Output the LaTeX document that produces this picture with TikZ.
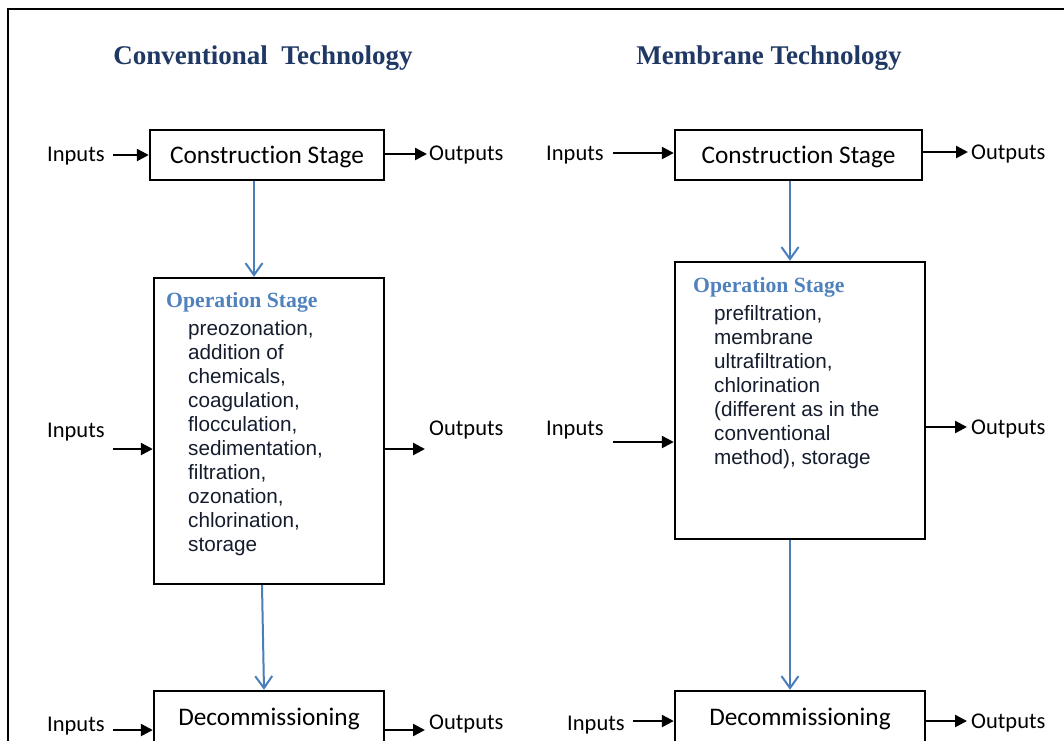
\documentclass[tikz,border=0pt]{standalone}
\usepackage{fontspec}
\setmainfont{Carlito}[Ligatures=NoCommon]
\newfontfamily\listfont{Liberation Sans}
\newfontfamily\headfont{Liberation Serif}
\usetikzlibrary{arrows.meta}
\definecolor{titleblue}{RGB}{31,56,100}
\definecolor{headblue}{RGB}{79,129,189}
\definecolor{linkblue}{RGB}{74,126,187}
\definecolor{listink}{RGB}{20,28,45}
\tikzset{
	stagebox/.style={draw=black, line width=2.4pt, inner sep=0pt, text depth=0pt, font=\fontsize{25.3}{30}\selectfont},
	iotext/.style={black, anchor=base west, inner sep=0pt, font=\fontsize{22.5}{27}\selectfont},
	listtext/.style={listink, anchor=base west, inner sep=0pt, font=\listfont\fontsize{20.7}{24}\selectfont},
	headtext/.style={headblue, anchor=base west, inner sep=0pt, font=\headfont\bfseries\fontsize{21.7}{26}\selectfont},
	titletext/.style={titleblue, anchor=base, inner sep=0pt, font=\headfont\bfseries\fontsize{27}{32}\selectfont},
	ioarrow/.style={draw=black, line width=2.4pt, -{Triangle[length=12pt,width=12pt]}},
	flowarrow/.style={draw=linkblue, line width=2pt, -{Straight Barb[length=12pt,width=17pt]}},
}
\begin{document}
\begin{tikzpicture}[x=1pt,y=-1pt]
	\useasboundingbox (0,0) rectangle (1064,740);
	\clip (0,0) rectangle (1064,740);
	\draw[draw=black, line width=2.4pt] (8,9) rectangle (1090,770);
	% titles
	\node[titletext] (titleL) at (263,64) {Conventional\ \ Technology};
	\node[titletext] (titleR) at (769,64) {Membrane Technology};
	% conventional column
	\node[stagebox, minimum width=234, minimum height=50] (conL) at (267,155) {Construction Stage};
	\node[stagebox, minimum width=230, minimum height=306] (opL) at (269,431) {};
	\node[stagebox, minimum width=230, minimum height=52] (decL) at (269,717) {Decommissioning};
	\node[headtext] (headL) at (166,307) {Operation Stage};
	\node[listtext] (lstL1) at (188,335) {preozonation,};
	\node[listtext] (lstL2) at (188,359) {addition of};
	\node[listtext] (lstL3) at (188,383) {chemicals,};
	\node[listtext] (lstL4) at (188,407) {coagulation,};
	\node[listtext] (lstL5) at (188,431) {flocculation,};
	\node[listtext] (lstL6) at (188,455) {sedimentation,};
	\node[listtext] (lstL7) at (188,479) {filtration,};
	\node[listtext] (lstL8) at (188,503) {ozonation,};
	\node[listtext] (lstL9) at (188,527) {chlorination,};
	\node[listtext] (lstL10) at (188,551) {storage};
	\node[iotext] (inLtxt1) at (47,161) {Inputs};
	\node[iotext] (inLtxt2) at (47,437) {Inputs};
	\node[iotext] (inLtxt3) at (47,731) {Inputs};
	\node[iotext] (outLtxt1) at (429,160) {Outputs};
	\node[iotext] (outLtxt2) at (429,435) {Outputs};
	\node[iotext] (outLtxt3) at (429,729) {Outputs};
	\coordinate (inL1) at (113,155);
	\coordinate (inL2) at (113,449);
	\coordinate (inL3) at (113,730);
	\coordinate (outL1) at (427,154);
	\coordinate (outL2) at (425,449);
	\coordinate (outL3) at (425,730);
	\draw[ioarrow] (inL1) -- (inL1 -| conL.west);
	\draw[ioarrow] (inL2) -- (inL2 -| opL.west);
	\draw[ioarrow] (inL3) -- (inL3 -| decL.west);
	\draw[ioarrow] (outL1 -| conL.east) -- (outL1);
	\draw[ioarrow] (outL2 -| opL.east) -- (outL2);
	\draw[ioarrow] (outL3 -| decL.east) -- (outL3);
	\draw[flowarrow] ([xshift=-13pt]conL.south) -- ([xshift=-13pt]conL.south |- opL.north);
	\draw[flowarrow] ([xshift=-7pt]opL.south) -- ([xshift=-5pt]decL.north);
	% membrane column
	\node[stagebox, minimum width=247, minimum height=50] (conR) at (798.5,155) {Construction Stage};
	\node[stagebox, minimum width=250, minimum height=277] (opR) at (800,400.5) {};
	\node[stagebox, minimum width=250, minimum height=52] (decR) at (800,717) {Decommissioning};
	\node[headtext] (headR) at (693,292) {Operation Stage};
	\node[listtext] (lstR1) at (714,320) {prefiltration,};
	\node[listtext] (lstR2) at (714,344) {membrane};
	\node[listtext] (lstR3) at (714,368) {ultrafiltration,};
	\node[listtext] (lstR4) at (714,392) {chlorination};
	\node[listtext] (lstR5) at (714,416) {(different as in the};
	\node[listtext] (lstR6) at (714,440) {conventional};
	\node[listtext] (lstR7) at (714,464) {method), storage};
	\node[iotext] (inRtxt1) at (546,160) {Inputs};
	\node[iotext] (inRtxt2) at (546,435) {Inputs};
	\node[iotext] (inRtxt3) at (567,730) {Inputs};
	\node[iotext] (outRtxt1) at (971,159) {Outputs};
	\node[iotext] (outRtxt2) at (971,434) {Outputs};
	\node[iotext] (outRtxt3) at (971,728) {Outputs};
	\coordinate (inR1) at (613,153);
	\coordinate (inR2) at (613,442);
	\coordinate (inR3) at (633,721);
	\coordinate (outR1) at (968,152);
	\coordinate (outR2) at (967,427);
	\coordinate (outR3) at (967,721);
	\draw[ioarrow] (inR1) -- (inR1 -| conR.west);
	\draw[ioarrow] (inR2) -- (inR2 -| opR.west);
	\draw[ioarrow] (inR3) -- (inR3 -| decR.west);
	\draw[ioarrow] (outR1 -| conR.east) -- (outR1);
	\draw[ioarrow] (outR2 -| opR.east) -- (outR2);
	\draw[ioarrow] (outR3 -| decR.east) -- (outR3);
	\draw[flowarrow] ([xshift=-8.5pt]conR.south) -- ([xshift=-8.5pt]conR.south |- opR.north);
	\draw[flowarrow] ([xshift=-10pt]opR.south) -- ([xshift=-10pt]decR.north);
\end{tikzpicture}
\end{document}
